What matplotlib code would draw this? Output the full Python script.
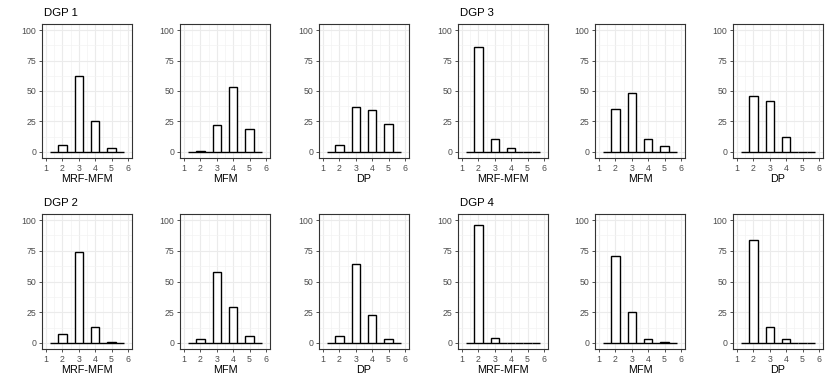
import numpy as np
import matplotlib
matplotlib.use("Agg")
import matplotlib.pyplot as plt

plt.rcParams['font.family'] = ['Liberation Sans', 'DejaVu Sans']

# number of clusters found (x) and how often (out of 100 runs)
clusters = [2, 3, 4, 5]
methods = ["MRF-MFM", "MFM", "DP"]
dgp_names = ["DGP 1", "DGP 2", "DGP 3", "DGP 4"]

dgp1_mrf = [6, 62, 25, 3]
dgp1_mfm = [1, 22, 53, 19]
dgp1_dp = [6, 37, 34, 23]

dgp2_mrf = [7, 74, 13, 1]
dgp2_mfm = [3, 58, 29, 6]
dgp2_dp = [6, 64, 23, 3]

dgp3_mrf = [86, 11, 3, 0]
dgp3_mfm = [35, 48, 11, 5]
dgp3_dp = [46, 42, 12, 0]

dgp4_mrf = [96, 4, 0, 0]
dgp4_mfm = [71, 25, 3, 1]
dgp4_dp = [84, 13, 3, 0]

counts = {
    "DGP 1": [dgp1_mrf, dgp1_mfm, dgp1_dp],
    "DGP 2": [dgp2_mrf, dgp2_mfm, dgp2_dp],
    "DGP 3": [dgp3_mrf, dgp3_mfm, dgp3_dp],
    "DGP 4": [dgp4_mrf, dgp4_mfm, dgp4_dp],
}

W, H = 830, 382
fig = plt.figure(figsize=(W / 100, H / 100), dpi=100)

# panel layout in pixels
lefts = [42, 180, 319, 458, 595, 733]
pw = 90
rows = {"top": (24, 158), "bottom": (214, 349)}
place = {"DGP 1": ("top", 0), "DGP 3": ("top", 3),
         "DGP 2": ("bottom", 0), "DGP 4": ("bottom", 3)}
title_base = {"top": 15.5, "bottom": 205.5}

# histogram bins of width 0.5 from 1.25 to 5.75
bin_centers = np.arange(1.5, 5.51, 0.5)

for name in dgp_names:
    row, start = place[name]
    top, bot = rows[row]
    for j, meth in enumerate(methods):
        left = lefts[start + j]
        ax = fig.add_axes([left / W, 1 - bot / H, pw / W, (bot - top) / H])
        heights = np.zeros(len(bin_centers))
        for c, v in zip(clusters, counts[name][j]):
            heights[np.isclose(bin_centers, c)] = v
        ax.bar(bin_centers, heights, width=0.5, facecolor="white",
               edgecolor="black", linewidth=1.0, zorder=3)
        ax.set_xlim(0.75, 6.25)
        ax.set_ylim(-5, 105)
        ax.set_xticks([1, 2, 3, 4, 5, 6])
        ax.set_xticks([1.5, 2.5, 3.5, 4.5, 5.5], minor=True)
        ax.set_yticks([0, 25, 50, 75, 100])
        ax.set_yticks([12.5, 37.5, 62.5, 87.5], minor=True)
        ax.grid(True, which="major", color="#EBEBEB", linewidth=0.8, zorder=0)
        ax.grid(True, which="minor", color="#F2F2F2", linewidth=0.45, zorder=0)
        ax.set_axisbelow(True)
        ax.tick_params(which="major", length=2.5, width=0.6, color="#333333",
                       labelsize=6.3, labelcolor="#4D4D4D", pad=1.5)
        ax.tick_params(which="minor", length=0)
        for s in ax.spines.values():
            s.set_color("#333333")
            s.set_linewidth(0.8)
        ax.set_xlabel(meth, fontsize=7.8, labelpad=1.2, color="black")
        if j == 0:
            fig.text((left + 1.5) / W, 1 - title_base[row] / H,
                     name, fontsize=8.2, ha="left", va="baseline")

fig.savefig("out.png", dpi=100)
